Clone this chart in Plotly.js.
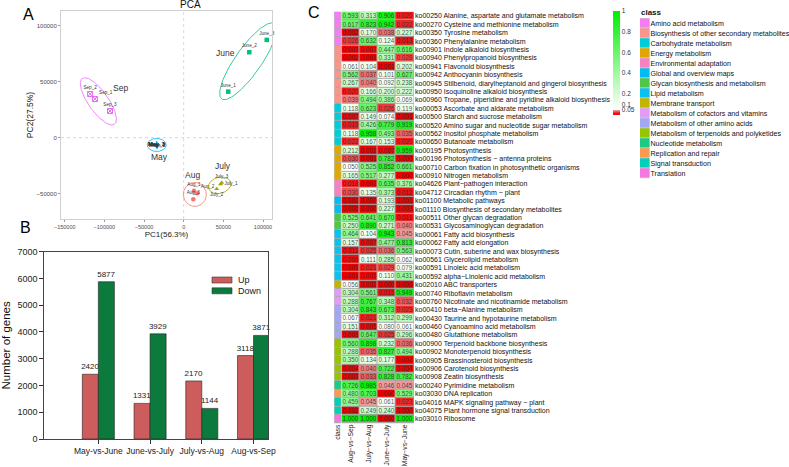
<!DOCTYPE html>
<html><head><meta charset="utf-8">
<script src="https://cdn.plot.ly/plotly-3.0.1.min.js"></script>
<style>html,body{margin:0;padding:0;background:#fff}#chart{width:789px;height:467px}</style>
</head><body><div id="chart"></div>
<script>
// ---------------- Panel A: PCA data ----------------
const pcaGroups = ['Aug', 'July', 'June', 'May', 'Sep'];
const augSamples = ['Aug_1', 'Aug_2', 'Aug_3'];
const augPC1 = [13000, 17100, 12100];
const augPC2 = [-47300, -49600, -55000];
const julySamples = ['July_1', 'July_2', 'July_3'];
const julyPC1 = [46500, 41600, 47900];
const julyPC2 = [-41500, -45800, -40200];
const juneSamples = ['June_1', 'June_2', 'June_3'];
const junePC1 = [56200, 82700, 104700];
const junePC2 = [41100, 76300, 87300];
const maySamples = ['May_1', 'May_2', 'May_3'];
const mayPC1 = [-34500, -33500, -34000];
const mayPC2 = [-6200, -6800, -6500];
const sepSamples = ['Sep_1', 'Sep_2', 'Sep_3'];
const sepPC1 = [-111900, -118000, -92900];
const sepPC2 = [34500, 39000, 23800];
const pc1Label = 'PC1(56.3%)';
const pc2Label = 'PC2(27.5%)';

// ---------------- Panel B: DEG counts ----------------
const comparisons = ['May-vs-June', 'June-vs-July', 'July-vs-Aug', 'Aug-vs-Sep'];
const upGenes = [2420, 1331, 2170, 3118];
const downGenes = [5877, 3929, 1144, 3871];
const barSeries = ['Up', 'Down'];

// ---------------- Panel C: KEGG heatmap ----------------
const heatColumns = ['Aug−vs−Sep', 'July−vs−Aug', 'June−vs−July', 'May−vs−June'];
const pathwayIds = ['ko00250','ko00270','ko00350','ko00360','ko00901','ko00940','ko00941','ko00942','ko00945','ko00950','ko00960','ko00053','ko00500','ko00520','ko00562','ko00650','ko00195','ko00196','ko00710','ko00910','ko04626','ko04712','ko01100','ko01110','ko00511','ko00531','ko00061','ko00062','ko00073','ko00561','ko00591','ko00592','ko02010','ko00740','ko00760','ko00410','ko00430','ko00460','ko00480','ko00900','ko00902','ko00905','ko00906','ko00908','ko00240','ko03030','ko04016','ko04075','ko03010'];
const pathwayNames = ['Alanine, aspartate and glutamate metabolism','Cysteine and methionine metabolism','Tyrosine metabolism','Phenylalanine metabolism','Indole alkaloid biosynthesis','Phenylpropanoid biosynthesis','Flavonoid biosynthesis','Anthocyanin biosynthesis','Stilbenoid, diarylheptanoid and gingerol biosynthesis','Isoquinoline alkaloid biosynthesis','Tropane, piperidine and pyridine alkaloid biosynthesis','Ascorbate and aldarate metabolism','Starch and sucrose metabolism','Amino sugar and nucleotide sugar metabolism','Inositol phosphate metabolism','Butanoate metabolism','Photosynthesis','Photosynthesis − antenna proteins','Carbon fixation in photosynthetic organisms','Nitrogen metabolism','Plant−pathogen interaction','Circadian rhythm − plant','Metabolic pathways','Biosynthesis of secondary metabolites','Other glycan degradation','Glycosaminoglycan degradation','Fatty acid biosynthesis','Fatty acid elongation','Cutin, suberine and wax biosynthesis','Glycerolipid metabolism','Linoleic acid metabolism','alpha−Linolenic acid metabolism','ABC transporters','Riboflavin metabolism','Nicotinate and nicotinamide metabolism','beta−Alanine metabolism','Taurine and hypotaurine metabolism','Cyanoamino acid metabolism','Glutathione metabolism','Terpenoid backbone biosynthesis','Monoterpenoid biosynthesis','Brassinosteroid biosynthesis','Carotenoid biosynthesis','Zeatin biosynthesis','Pyrimidine metabolism','DNA replication','MAPK signaling pathway − plant','Plant hormone signal transduction','Ribosome'];
const augSep   = [0.593,0.617,0.002,0.026,0.003,0.002,0.061,0.562,0.267,0.020,0.039,0.118,0.007,0.019,0.118,0.022,0.212,0.030,0.050,0.165,0.018,0.030,0.000,0.000,0.525,0.250,0.464,0.157,0.011,0.009,0.001,0.001,0.056,0.304,0.288,0.304,0.067,0.151,0.003,0.560,0.288,0.350,0.004,0.003,0.726,0.480,0.459,0.002,1.000];
const julyAug  = [0.313,0.823,0.170,0.632,0.007,0.001,0.104,0.037,0.040,0.166,0.494,0.623,0.149,0.426,0.958,0.167,0.002,0.001,0.525,0.517,0.002,0.135,0.000,0.000,0.641,0.890,0.104,0.007,0.025,0.111,0.021,0.005,0.002,0.561,0.767,0.843,0.021,0.005,0.647,0.898,0.035,0.134,0.040,0.033,0.985,0.703,0.045,0.249,1.000];
const juneJuly = [0.906,0.942,0.038,0.124,0.447,0.331,0.001,0.101,0.092,0.200,0.386,0.026,0.074,0.779,0.493,0.153,0.007,0.782,0.852,0.277,0.635,0.373,0.193,0.227,0.670,0.271,0.943,0.477,0.036,0.285,0.029,0.110,0.000,0.015,0.348,0.673,0.312,0.080,0.025,0.232,0.827,0.177,0.722,0.828,0.046,0.000,0.061,0.240,0.000];
const mayJune  = [0.020,0.022,0.227,0.013,0.616,0.028,0.202,0.627,0.238,0.222,0.069,0.119,0.001,0.919,0.035,0.020,0.959,0.000,0.661,0.000,0.376,0.012,0.001,0.003,0.011,0.040,0.045,0.813,0.563,0.062,0.079,0.431,0.000,0.949,0.032,0.023,0.299,0.061,0.296,0.036,0.494,0.002,0.004,0.782,0.045,0.529,0.023,0.000,1.000];
const classNames = ['Amino acid metabolism','Biosynthesis of other secondary metabolites','Carbohydrate metabolism','Energy metabolism','Environmental adaptation','Global and overview maps','Glycan biosynthesis and metabolism','Lipid metabolism','Membrane transport','Metabolism of cofactors and vitamins','Metabolism of other amino acids','Metabolism of terpenoids and polyketides','Nucleotide metabolism','Replication and repair','Signal transduction','Translation'];
const rowClass = [0,0,0,0,1,1,1,1,1,1,1,2,2,2,2,2,3,3,3,3,4,4,5,5,6,6,7,7,7,7,7,7,8,9,9,10,10,10,10,11,11,11,11,11,12,13,14,14,15];
const colorbarTicks = [0.05, 0.1, 0.2, 0.4, 0.6, 0.8, 1];

// ---------------- styles ----------------
const FONT = 'Liberation Sans, Arial, Helvetica, sans-serif';
const W = 789, H = 467;
const fx = p => p / W, fy = p => 1 - p / H;
const groupColors = {Aug:'#F8766D', July:'#A3A500', June:'#00BF7D', May:'#00B0F6', Sep:'#E76BF3'};
const groupSymbols = {Aug:'circle', July:'triangle-up', June:'square', May:'cross-thin-open', Sep:'square-x-open'};
const classColors = ['#F57DF2','#F8968C','#00CDD8','#DFA800','#F582C0','#00BCF5','#4FC64A','#08C3EE','#C0B600','#E29CF6','#A2A8F4','#97C400','#1ACB84','#FA9A50','#00D1B6','#F577E0'];
const barColors = ['#CD5C5C', '#0B7A3C'];
// ellipse style in pixels: semi-major, semi-minor, angle(deg); label shift in px
const ellipseStyle = {Aug:[12,11.5,90], July:[11.5,8,15], June:[46,13,55], May:[9.5,6.5,0], Sep:[28,10,-55]};
const groupLabelShift = {Aug:[-2,19], July:[3,19], June:[-23,8], May:[3,-12], Sep:[22,13]};
const samplePos = {Aug:['top center','top right','top center'], July:['middle right','bottom center','top center'], June:['top center','top center','top center'], May:['middle center','middle center','middle center'], Sep:['top right','top center','top center']};

// axes geometry (px)
const axA = {x:[61,272], y:[11,219]};
const xRangeA = [-154700, 111350], yRangeA = [-72600, 113100];
const axB = {x:[44.3,268], y:[251.7,439]};
const heatX = [341.5, 414], heatY = [11.8, 423.2];
const classX = [334.3, 340.8];
const legX = [640, 649.5], legY = [18.3, 178.3];

const pcaData = {
  Aug:[augPC1, augPC2, augSamples], July:[julyPC1, julyPC2, julySamples],
  June:[junePC1, junePC2, juneSamples], May:[mayPC1, mayPC2, maySamples],
  Sep:[sepPC1, sepPC2, sepSamples]
};

const traces = [];
const annotations = [];
const shapes = [];
const ux = (xRangeA[1]-xRangeA[0]) / (axA.x[1]-axA.x[0]);
const uy = (yRangeA[1]-yRangeA[0]) / (axA.y[1]-axA.y[0]);
const mean = a => a.reduce((s,v)=>s+v,0)/a.length;

pcaGroups.forEach(g => {
  const [xs, ys, labs] = pcaData[g];
  const cx = mean(xs), cy = mean(ys);
  const [a, b, ang] = ellipseStyle[g];
  const th = ang * Math.PI / 180;
  const ex = [], ey = [];
  for (let i = 0; i <= 120; i++) {
    const t = 2 * Math.PI * i / 120;
    const dx = a*Math.cos(t)*Math.cos(th) - b*Math.sin(t)*Math.sin(th);
    const dy = a*Math.cos(t)*Math.sin(th) + b*Math.sin(t)*Math.cos(th);
    ex.push(cx + dx*ux); ey.push(cy + dy*uy);
  }
  traces.push({type:'scatter', mode:'lines', x:ex, y:ey, xaxis:'x', yaxis:'y',
    line:{color:groupColors[g], width:0.8}, showlegend:false, hoverinfo:'skip'});
  const open = groupSymbols[g].indexOf('open') >= 0;
  traces.push({type:'scatter', mode:'markers+text', x:xs, y:ys, text:labs,
    textposition:samplePos[g], xaxis:'x', yaxis:'y', cliponaxis:false,
    textfont:{family:FONT, size: g==='May' ? 5.5 : 4.6, color:'#333', weight: g==='May'?'bold':'normal'},
    marker:{symbol:groupSymbols[g], color:groupColors[g], size: open?5:4.5, line:{width: open?1:0, color:groupColors[g]}},
    showlegend:false, name:g});
  const sh = groupLabelShift[g];
  annotations.push({x:cx, y:cy, xref:'x', yref:'y', text:g, showarrow:false,
    xshift:sh[0], yshift:sh[1], font:{family:FONT, size:8.5, color:'#333'}});
});

// bars
[upGenes, downGenes].forEach((vals, k) => {
  traces.push({type:'bar', name:barSeries[k], x:comparisons, y:vals, xaxis:'x2', yaxis:'y2',
    marker:{color:barColors[k], line:{color:'#222', width:0.6}},
    text:vals.map(String), textposition:'outside', cliponaxis:false, constraintext:'none',
    textfont:{family:FONT, size:8, color:'#222'}, showlegend:false});
  // custom legend swatch + label
  const top = 277 + k*10.8;
  shapes.push({type:'rect', xref:'paper', yref:'paper', x0:fx(212), x1:fx(232), y0:fy(top+6), y1:fy(top),
    fillcolor:barColors[k], line:{color:'#333', width:0.6}});
  annotations.push({text:barSeries[k], x:fx(236), y:fy(top+3), xref:'paper', yref:'paper', showarrow:false,
    xanchor:'left', yanchor:'middle', font:{family:FONT, size:9, color:'#222'}});
});

// heatmap
const rowLabels = pathwayIds.map((id,i) => id + ' ' + pathwayNames[i]);
const zHeat = rowLabels.map((_, i) => [augSep[i], julyAug[i], juneJuly[i], mayJune[i]]);
traces.push({type:'heatmap', x:heatColumns, y:rowLabels, z:zHeat, xaxis:'x3', yaxis:'y3',
  zmin:0, zmax:1, xgap:1, ygap:1,
  colorscale:[[0,'#EE0000'],[0.02,'#EE1C1C'],[0.035,'#EE6464'],[0.0499,'#F3AEAE'],[0.05,'#FFFFFF'],[1,'#00EE00']],
  texttemplate:'%{z:.3f}', textfont:{family:FONT, size:6.3, color:'rgba(40,40,40,0.8)'},
  hoverinfo:'skip',
  colorbar:{x:fx(613), xanchor:'left', y:fy(10.7), yanchor:'top', len:104/H, lenmode:'fraction',
    thickness:7, thicknessmode:'pixels', outlinewidth:0, tickvals:colorbarTicks,
    ticktext:colorbarTicks.map(String), ticks:'', ticklabelpad:1, tickfont:{family:FONT, size:6.5, color:'#333'}, xpad:0, ypad:0}
});

// class discrete scale
const nC = classNames.length;
const discScale = [];
classColors.forEach((c,i) => { discScale.push([i/nC, c]); discScale.push([(i+1)/nC, c]); });
traces.push({type:'heatmap', x:['class'], y:rowLabels, z:rowClass.map(v=>[v]), xaxis:'x4', yaxis:'y3',
  zmin:-0.5, zmax:nC-0.5, colorscale:discScale, showscale:false, ygap:1, hoverinfo:'skip'});
traces.push({type:'heatmap', x:['class'], y:classNames, z:classNames.map((_,i)=>[i]), xaxis:'x5', yaxis:'y5',
  zmin:-0.5, zmax:nC-0.5, colorscale:discScale, showscale:false, ygap:1, hoverinfo:'skip'});

// panel labels & title
[['A',28,14],['B',25,227],['C',314,13]].forEach(([t,x,y]) => annotations.push({
  text:t, x:fx(x), y:fy(y), xref:'paper', yref:'paper', showarrow:false, xanchor:'center', yanchor:'middle',
  font:{family:FONT, size:16, color:'#000'}}));
annotations.push({text:'PCA', x:fx(178), y:fy(5), xref:'paper', yref:'paper', showarrow:false,
  yanchor:'middle', font:{family:FONT, size:10, color:'#111'}});
annotations.push({text:'<b>class</b>', x:fx(639), y:fy(13), xref:'paper', yref:'paper', showarrow:false,
  xanchor:'left', yanchor:'middle', font:{family:FONT, size:8, color:'#111'}});

shapes.push(
  {type:'line', xref:'x', yref:'y domain', x0:0, x1:0, y0:0, y1:1, layer:'below', line:{color:'#d8d8d8', width:1, dash:'dot'}},
  {type:'line', xref:'x domain', yref:'y', x0:0, x1:1, y0:0, y1:0, layer:'below', line:{color:'#d8d8d8', width:1, dash:'dot'}},
  {type:'rect', xref:'x3 domain', yref:'y3 domain', x0:0, x1:1, y0:0, y1:1, layer:'below', fillcolor:'#a8a8a8', line:{width:0}},
  {type:'rect', xref:'x4 domain', yref:'y3 domain', x0:0, x1:1, y0:0, y1:1, layer:'below', fillcolor:'#a8a8a8', line:{width:0}},
  {type:'rect', xref:'x5 domain', yref:'y5 domain', x0:0, x1:1, y0:0, y1:1, layer:'below', fillcolor:'#c8c8c8', line:{width:0}}
);

const tickFontA = {family:FONT, size:5.5, color:'#4d4d4d'};
const layout = {
  width:W, height:H, margin:{l:0,r:0,t:0,b:0}, paper_bgcolor:'#fff', plot_bgcolor:'#fff',
  font:{family:FONT}, showlegend:false, barmode:'group', bargap:0.38, bargroupgap:0,
  xaxis:{domain:[fx(axA.x[0]), fx(axA.x[1])], anchor:'y', range:xRangeA, tickformat:'d',
    tickvals:[-150000,-100000,-50000,0,50000,100000], ticks:'outside', ticklen:2, tickcolor:'#999',
    tickfont:tickFontA, showgrid:false, zeroline:false, showline:true, mirror:true, linecolor:'#d0d0d0', linewidth:1,
    title:{text:pc1Label, font:{family:FONT, size:8, color:'#222'}, standoff:2}},
  yaxis:{domain:[fy(axA.y[1]), fy(axA.y[0])], anchor:'x', range:yRangeA, tickformat:'d',
    tickvals:[-50000,0,50000,100000], ticks:'outside', ticklen:2, tickcolor:'#999',
    tickfont:{family:FONT, size:6, color:'#4d4d4d'}, showgrid:false, zeroline:false, showline:true, mirror:true, linecolor:'#d0d0d0', linewidth:1,
    title:{text:pc2Label, font:{family:FONT, size:8.5, color:'#222'}, standoff:1}},
  xaxis2:{domain:[fx(axB.x[0]), fx(axB.x[1])], anchor:'y2', type:'category', range:[-1.045, 3.28],
    ticks:'outside', ticklen:4, tickcolor:'#333', tickfont:{family:FONT, size:8.5, color:'#222'},
    showline:true, mirror:true, linecolor:'#444', linewidth:1, showgrid:false},
  yaxis2:{domain:[fy(axB.y[1]), fy(axB.y[0])], anchor:'x2', range:[0,7000], dtick:1000,
    ticks:'outside', ticklen:4, tickcolor:'#333', tickfont:{family:FONT, size:9, color:'#222'},
    showline:true, mirror:true, linecolor:'#444', linewidth:1, showgrid:false, zeroline:false,
    title:{text:'Number of genes', font:{family:FONT, size:11.5, color:'#111'}, standoff:6}},
  xaxis3:{domain:[fx(heatX[0]), fx(heatX[1])], anchor:'y3', type:'category', tickangle:-90,
    tickmode:'array', tickvals:heatColumns,
    tickfont:{family:FONT, size:6.7, color:'#222'}, ticks:'', showgrid:false, zeroline:false, showline:false, ticklabelstandoff:-1},
  yaxis3:{domain:[fy(heatY[1]), fy(heatY[0])], anchor:'x3', type:'category', autorange:'reversed', side:'right',
    tickmode:'array', tickvals:rowLabels,
    tickfont:{family:FONT, size:7, color:'#111'}, ticks:'', showgrid:false, zeroline:false, showline:false, ticklabelstandoff:0},
  xaxis4:{domain:[fx(classX[0]), fx(classX[1])], anchor:'y3', type:'category', tickangle:-90,
    tickfont:{family:FONT, size:6.7, color:'#222'}, ticks:'', showgrid:false, zeroline:false, showline:false, ticklabelstandoff:-1},
  xaxis5:{domain:[fx(legX[0]), fx(legX[1])], anchor:'y5', visible:false},
  yaxis5:{domain:[fy(legY[1]), fy(legY[0])], anchor:'x5', type:'category', autorange:'reversed', side:'right',
    tickmode:'array', tickvals:classNames,
    tickfont:{family:FONT, size:7.1, color:'#111'}, ticks:'', showgrid:false, zeroline:false, showline:false, ticklabelstandoff:0},
  shapes:shapes,
  annotations:annotations
};
Plotly.newPlot('chart', traces, layout, {displayModeBar:false, staticPlot:true});
</script></body></html>
